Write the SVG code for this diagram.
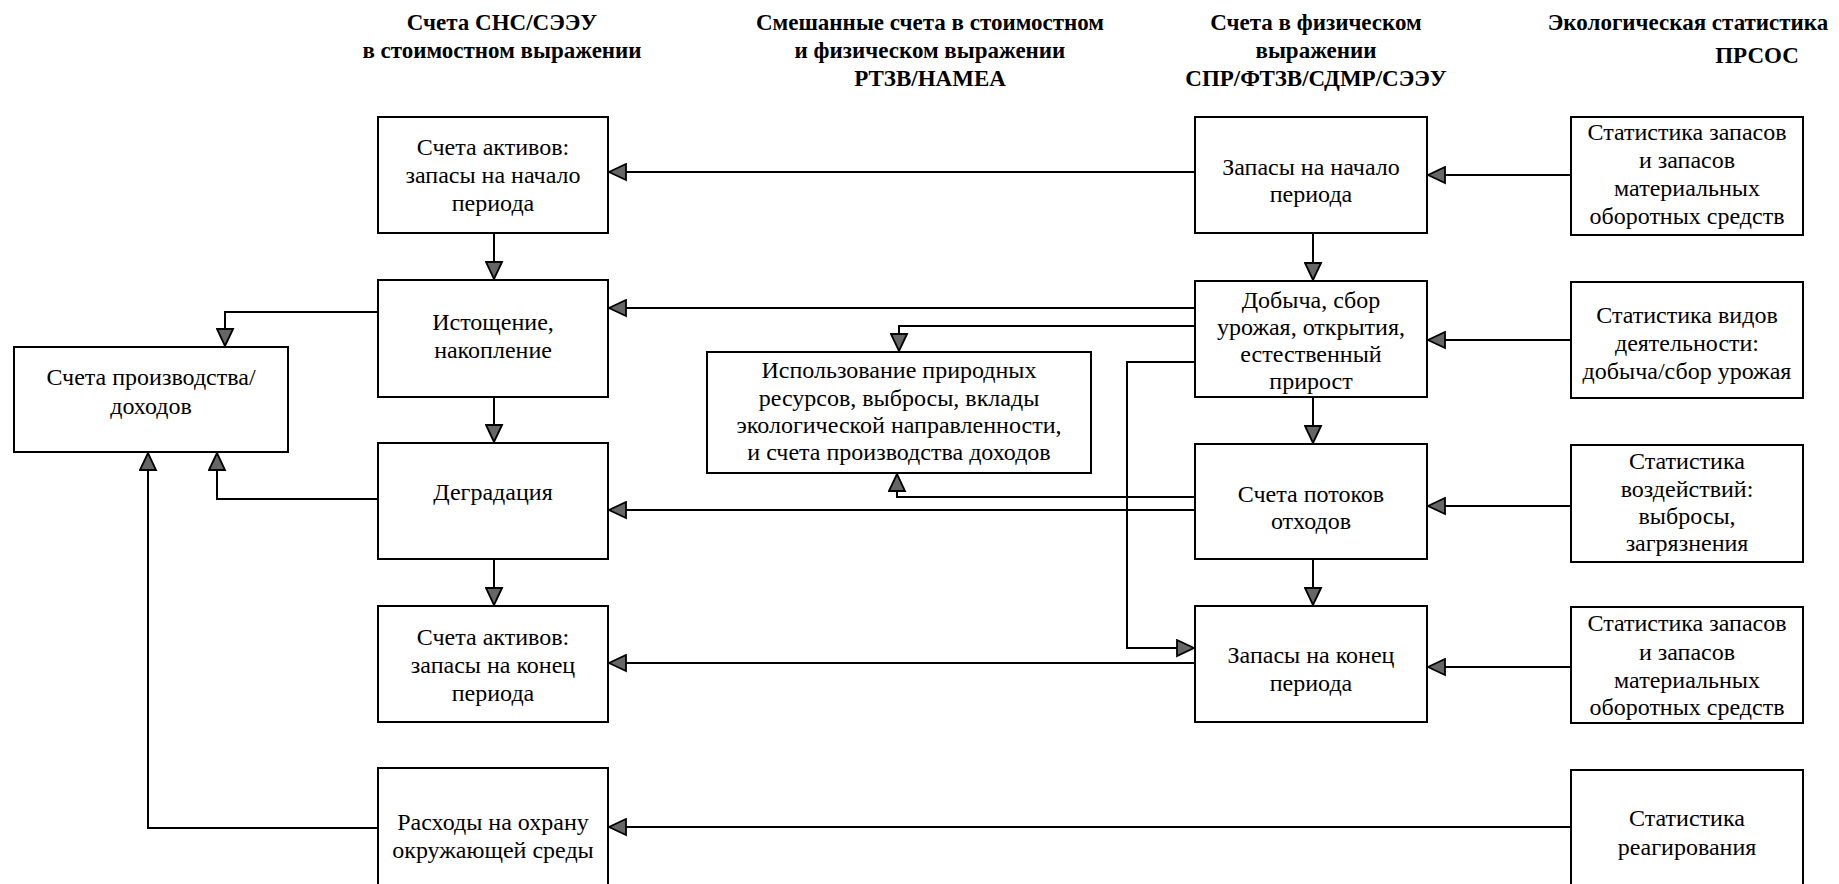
<svg xmlns="http://www.w3.org/2000/svg" width="1839" height="884" viewBox="0 0 1839 884">
<defs>
<style>
.bg{fill:#fff}
.box{fill:#fff;stroke:#000;stroke-width:2}
.t{font-family:"Liberation Serif","Times New Roman",serif;font-size:24px;fill:#000;text-anchor:middle}
.h{font-family:"Liberation Serif","Times New Roman",serif;font-size:23px;font-weight:bold;fill:#000;text-anchor:middle}
.c{fill:none;stroke:#000;stroke-width:2}
</style>
<marker id="ah" viewBox="0 0 19 19" refX="18" refY="9.5" markerWidth="19" markerHeight="19" markerUnits="userSpaceOnUse" orient="auto">
<path d="M1,1.5 L18,9.5 L1,17.5 Z" fill="#666" stroke="#000" stroke-width="1.8" stroke-linejoin="miter"/>
</marker>
</defs>
<rect class="bg" x="0" y="0" width="1839" height="884"/>

<g id="headers">
<text class="h" x="502" y="30">Счета СНС/СЭЭУ</text>
<text class="h" x="502" y="58">в стоимостном выражении</text>
<text class="h" x="930" y="30">Смешанные счета в стоимостном</text>
<text class="h" x="930" y="58">и физическом выражении</text>
<text class="h" x="930" y="86">РТЗВ/НАМЕА</text>
<text class="h" x="1316" y="30">Счета в физическом</text>
<text class="h" x="1316" y="58">выражении</text>
<text class="h" x="1316" y="86">СПР/ФТЗВ/СДМР/СЭЭУ</text>
<text class="h" x="1688" y="30">Экологическая статистика</text>
<text class="h" x="1757" y="63">ПРСОС</text>
</g>

<g id="connectors">
<polyline class="c" marker-end="url(#ah)" points="1195,172 609,172"/>
<polyline class="c" marker-end="url(#ah)" points="1571,175 1428,175"/>
<polyline class="c" marker-end="url(#ah)" points="1313,233 1313,280"/>
<polyline class="c" marker-end="url(#ah)" points="494,233 494,279"/>
<polyline class="c" marker-end="url(#ah)" points="378,312 225,312 225,346"/>
<polyline class="c" marker-end="url(#ah)" points="1195,308 609,308"/>
<polyline class="c" marker-end="url(#ah)" points="1195,326 899,326 899,351"/>
<polyline class="c" marker-end="url(#ah)" points="1195,362 1127,362 1127,648 1194,648"/>
<polyline class="c" marker-end="url(#ah)" points="1572,340 1428,340"/>
<polyline class="c" marker-end="url(#ah)" points="494,397 494,442"/>
<polyline class="c" marker-end="url(#ah)" points="1313,397 1313,443"/>
<polyline class="c" marker-end="url(#ah)" points="1195,497 897,497 897,474"/>
<polyline class="c" marker-end="url(#ah)" points="1195,510 609,510"/>
<polyline class="c" marker-end="url(#ah)" points="378,499 217,499 217,453"/>
<polyline class="c" marker-end="url(#ah)" points="1572,506 1428,506"/>
<polyline class="c" marker-end="url(#ah)" points="494,559 494,605"/>
<polyline class="c" marker-end="url(#ah)" points="1313,559 1313,605"/>
<polyline class="c" marker-end="url(#ah)" points="1195,663 609,663"/>
<polyline class="c" marker-end="url(#ah)" points="1571,667 1428,667"/>
<polyline class="c" marker-end="url(#ah)" points="1571,827 609,827"/>
<polyline class="c" marker-end="url(#ah)" points="378,828 148,828 148,453"/>
</g>

<g id="A1"><rect class="box" x="378" y="117" width="230" height="116"/>
<text class="t" x="493" y="155">Счета активов:</text>
<text class="t" x="493" y="183">запасы на начало</text>
<text class="t" x="493" y="211">периода</text></g>

<g id="A2"><rect class="box" x="378" y="280" width="230" height="117"/>
<text class="t" x="493" y="330">Истощение,</text>
<text class="t" x="493" y="358">накопление</text></g>

<g id="A3"><rect class="box" x="378" y="443" width="230" height="116"/>
<text class="t" x="493" y="500">Деградация</text></g>

<g id="A4"><rect class="box" x="378" y="606" width="230" height="116"/>
<text class="t" x="493" y="645">Счета активов:</text>
<text class="t" x="493" y="673">запасы на конец</text>
<text class="t" x="493" y="701">периода</text></g>

<g id="A5"><rect class="box" x="378" y="768" width="230" height="130"/>
<text class="t" x="493" y="830">Расходы на охрану</text>
<text class="t" x="493" y="858">окружающей среды</text></g>

<g id="P"><rect class="box" x="14" y="347" width="274" height="105"/>
<text class="t" x="151" y="385">Счета производства/</text>
<text class="t" x="151" y="414">доходов</text></g>

<g id="M"><rect class="box" x="707" y="352" width="384" height="121"/>
<text class="t" x="899" y="378">Использование природных</text>
<text class="t" x="899" y="406">ресурсов, выбросы, вклады</text>
<text class="t" x="899" y="433">экологической направленности,</text>
<text class="t" x="899" y="460">и счета производства доходов</text></g>

<g id="F1"><rect class="box" x="1195" y="117" width="232" height="116"/>
<text class="t" x="1311" y="175">Запасы на начало</text>
<text class="t" x="1311" y="202">периода</text></g>

<g id="F2"><rect class="box" x="1195" y="281" width="232" height="116"/>
<text class="t" x="1311" y="308">Добыча, сбор</text>
<text class="t" x="1311" y="335">урожая, открытия,</text>
<text class="t" x="1311" y="362">естественный</text>
<text class="t" x="1311" y="389">прирост</text></g>

<g id="F3"><rect class="box" x="1195" y="444" width="232" height="115"/>
<text class="t" x="1311" y="502">Счета потоков</text>
<text class="t" x="1311" y="529">отходов</text></g>

<g id="F4"><rect class="box" x="1195" y="606" width="232" height="116"/>
<text class="t" x="1311" y="663">Запасы на конец</text>
<text class="t" x="1311" y="691">периода</text></g>

<g id="E1"><rect class="box" x="1571" y="117" width="232" height="118"/>
<text class="t" x="1687" y="140">Статистика запасов</text>
<text class="t" x="1687" y="168">и запасов</text>
<text class="t" x="1687" y="196">материальных</text>
<text class="t" x="1687" y="224">оборотных средств</text></g>

<g id="E2"><rect class="box" x="1571" y="282" width="232" height="116"/>
<text class="t" x="1687" y="323">Статистика видов</text>
<text class="t" x="1687" y="351">деятельности:</text>
<text class="t" x="1687" y="379">добыча/сбор урожая</text></g>

<g id="E3"><rect class="box" x="1571" y="445" width="232" height="117"/>
<text class="t" x="1687" y="469">Статистика</text>
<text class="t" x="1687" y="497">воздействий:</text>
<text class="t" x="1687" y="524">выбросы,</text>
<text class="t" x="1687" y="551">загрязнения</text></g>

<g id="E4"><rect class="box" x="1571" y="607" width="232" height="116"/>
<text class="t" x="1687" y="631">Статистика запасов</text>
<text class="t" x="1687" y="660">и запасов</text>
<text class="t" x="1687" y="688">материальных</text>
<text class="t" x="1687" y="715">оборотных средств</text></g>

<g id="E5"><rect class="box" x="1571" y="770" width="232" height="130"/>
<text class="t" x="1687" y="826">Статистика</text>
<text class="t" x="1687" y="855">реагирования</text></g>
</svg>
